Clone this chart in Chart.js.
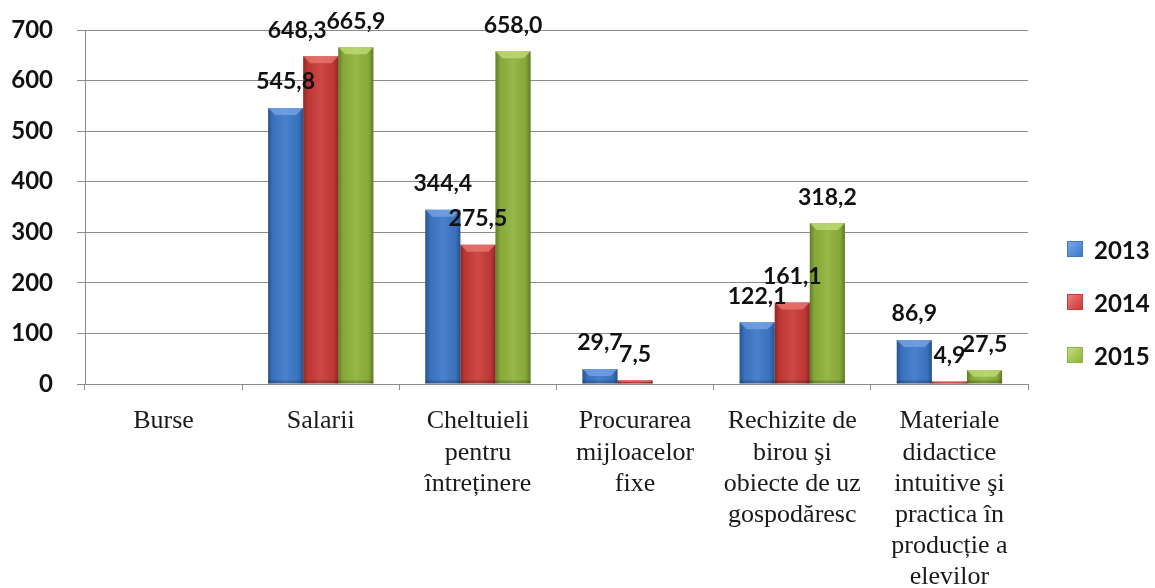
<!DOCTYPE html>
<html>
<head>
<meta charset="utf-8">
<script src="https://cdn.jsdelivr.net/npm/chart.js@4/dist/chart.umd.min.js"></script>
<style>
  html, body { margin: 0; padding: 0; background: #ffffff; }
  #wrap { position: relative; width: 1155px; height: 588px; }
  #legend { position: absolute; left: 1067px; top: 231px; font-family: Lato, "Liberation Sans", sans-serif; font-weight: bold; font-size: 24px; color: #111; }
  .row { display: flex; align-items: center; height: 36px; margin-bottom: 17px; }
  .sw { width: 16px; height: 16px; margin-right: 11px; box-sizing: border-box; }
</style>
</head>
<body>
<div id="wrap">
  <canvas id="c" width="1155" height="588"></canvas>
  <div id="legend"></div>
</div>
<script>
const categories = [
  ["Burse"],
  ["Salarii"],
  ["Cheltuieli", "pentru", "întreținere"],
  ["Procurarea", "mijloacelor", "fixe"],
  ["Rechizite de", "birou şi", "obiecte de uz", "gospodăresc"],
  ["Materiale", "didactice", "intuitive şi", "practica în", "producție a", "elevilor"]
];
const seriesNames = ["2013", "2014", "2015"];
const values2013 = [null, 545.8, 344.4, 29.7, 122.1, 86.9];
const values2014 = [null, 648.3, 275.5, 7.5, 161.1, 4.9];
const values2015 = [null, 665.9, 658.0, null, 318.2, 27.5];
const yMin = 0, yMax = 700, yStep = 100;

const seriesColors = ["#3d78c9", "#c93b37", "#8fb33c"];
const seriesLight = ["#7aa6e6", "#ec7a76", "#c3df7a"];

const fmt = v => v.toFixed(1).replace('.', ',');

const barStyle = {
  id: 'barStyle',
  afterDatasetsDraw(chart) {
    const ctx = chart.ctx;
    ctx.save();
    chart.data.datasets.forEach((ds, i) => {
      const meta = chart.getDatasetMeta(i);
      meta.data.forEach((bar, j) => {
        if (ds.data[j] == null) return;
        const p = bar.getProps(['x', 'y', 'base', 'width'], true);
        const l = p.x - p.width / 2, r = p.x + p.width / 2, h = p.base - p.y;
        const g = ctx.createLinearGradient(l, 0, r, 0);
        g.addColorStop(0, 'rgba(0,0,0,0.30)');
        g.addColorStop(0.14, 'rgba(0,0,0,0.06)');
        g.addColorStop(0.5, 'rgba(255,255,255,0.07)');
        g.addColorStop(0.86, 'rgba(0,0,0,0.06)');
        g.addColorStop(1, 'rgba(0,0,0,0.32)');
        ctx.fillStyle = g;
        ctx.fillRect(l, p.y, p.width, h);
        const b = Math.min(7, h / 2);
        ctx.beginPath();
        ctx.moveTo(l, p.y); ctx.lineTo(r, p.y); ctx.lineTo(r - b, p.y + b); ctx.lineTo(l + b, p.y + b); ctx.closePath();
        ctx.fillStyle = seriesLight[i];
        ctx.globalAlpha = 0.75;
        ctx.fill();
        ctx.globalAlpha = 1;
        const bb = Math.min(3, h / 3);
        ctx.fillStyle = 'rgba(0,0,0,0.18)';
        ctx.fillRect(l, p.base - bb, p.width, bb);
      });
    });
    ctx.font = 'bold 23px Lato, "Liberation Sans", sans-serif';
    ctx.fillStyle = '#111';
    ctx.textAlign = 'center';
    ctx.textBaseline = 'middle';
    const nCat = chart.data.labels.length;
    for (let j = 0; j < nCat; j++) {
      const items = [];
      chart.data.datasets.forEach((ds, i) => {
        if (ds.data[j] == null) return;
        const p = chart.getDatasetMeta(i).data[j].getProps(['x', 'y'], true);
        const text = fmt(ds.data[j]);
        const w = ctx.measureText(text).width;
        items.push({ text, x: p.x, y: p.y - 26, w });
      });
      // resolve strong overlaps by moving a label left of its right neighbour
      for (let k = items.length - 2; k >= 0; k--) {
        const a = items[k], b = items[k + 1];
        const overlapX = (a.x + a.w / 2) - (b.x - b.w / 2);
        if (Math.abs(a.y - b.y) < 17 && overlapX > 10) a.x -= overlapX;
      }
      items.forEach(it => ctx.fillText(it.text, it.x, it.y));
    }
    ctx.restore();
  }
};

const datasets = [values2013, values2014, values2015].map((vals, i) => ({
  label: seriesNames[i],
  data: vals,
  backgroundColor: seriesColors[i],
  borderWidth: 0,
  categoryPercentage: 0.67,
  barPercentage: 1.0
}));

new Chart(document.getElementById('c'), {
  type: 'bar',
  data: { labels: categories, datasets },
  options: {
    responsive: false,
    animation: false,
    devicePixelRatio: 1,
    layout: { padding: { top: 30, right: 127, left: 0, bottom: 0 } },
    plugins: { legend: { display: false }, tooltip: { enabled: false } },
    scales: {
      x: {
        grid: { display: true, drawOnChartArea: false, offset: true, tickLength: 6, color: '#8c8c8c' },
        border: { display: true, color: '#8c8c8c' },
        ticks: {
          maxRotation: 0, autoSkip: false, padding: 16, color: '#1a1a1a',
          font: { family: '"Liberation Serif", "Times New Roman", serif', size: 26, lineHeight: 1.2 }
        },
        afterFit(scale) { scale.height = 204; }
      },
      y: {
        min: yMin, max: yMax,
        grid: { color: '#8c8c8c', tickLength: 8 },
        border: { display: true, color: '#8c8c8c' },
        ticks: {
          stepSize: yStep, padding: 24, color: '#111',
          font: { family: 'Lato, "Liberation Sans", sans-serif', size: 24, weight: 'bold' }
        },
        afterFit(scale) { scale.width = 85; scale.paddingTop = 0; scale.paddingBottom = 0; }
      }
    }
  },
  plugins: [barStyle]
});

const legend = document.getElementById('legend');
seriesNames.forEach((name, i) => {
  const row = document.createElement('div');
  row.className = 'row';
  const sw = document.createElement('div');
  sw.className = 'sw';
  sw.style.background = 'linear-gradient(135deg, ' + seriesLight[i] + ', ' + seriesColors[i] + ')';
  sw.style.border = '1px solid ' + seriesColors[i];
  const t = document.createElement('span');
  t.textContent = name;
  row.appendChild(sw);
  row.appendChild(t);
  legend.appendChild(row);
});
</script>
</body>
</html>
